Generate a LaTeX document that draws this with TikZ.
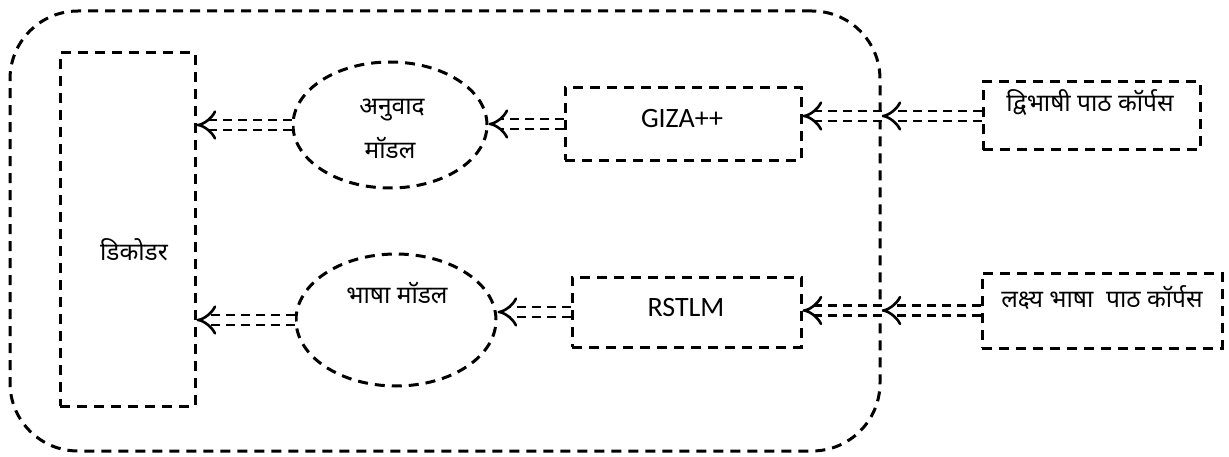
\documentclass[tikz,border=0pt]{standalone}
\usepackage{fontspec}
\setmainfont{Carlito}
\newfontfamily\deva[Script=Devanagari]{Noto Sans}
\usetikzlibrary{arrows.meta,shapes.geometric}

\begin{document}
\begin{tikzpicture}[x=1pt,y=-1pt,
  outline/.style={draw, line width=3pt, dash pattern=on 10pt off 7pt},
  box/.style={outline, rectangle, inner sep=0pt},
  oval/.style={outline, ellipse, inner sep=0pt},
  flow/.style={line width=2.6pt, double, double distance=7.5pt,
               dash pattern=on 9pt off 6pt, -{Implies[length=11pt,width=26pt]}},
  hindi/.style={font=\deva\fontsize{24.5}{28}\selectfont, inner sep=0pt},
  latin/.style={font=\fontsize{28}{32}\selectfont, inner sep=0pt}]

\useasboundingbox (0,0) rectangle (1229,457);

% system boundary
\node[box, rounded corners=68pt, minimum width=870pt, minimum height=440pt] (frame) at (445,231) {};

% components inside the system
\node[box, minimum width=135pt, minimum height=353pt] (dec) at (127.5,229.5) {};
\node[oval, minimum width=194pt, minimum height=126pt] (ell1) at (390,125) {};
\node[oval, minimum width=200pt, minimum height=132pt] (ell2) at (396,320) {};
\node[box, minimum width=236pt, minimum height=73pt] (giza) at (683,124) {};
\node[box, minimum width=229pt, minimum height=70pt] (rst) at (686.5,312) {};

% corpora outside the system
\node[box, minimum width=217pt, minimum height=68pt] (bi) at (1091.5,116) {};
\node[box, minimum width=240pt, minimum height=75pt] (lak) at (1102,310.5) {};

% labels
\node[hindi] (tdec) at (134,250) {डिकोडर};
\node[hindi] (tell1a) at (392,110) {अनुवाद};
\node[hindi] (tell1b) at (390,148) {मॉडल};
\node[hindi] (tell2) at (397,293) {भाषा मॉडल};
\node[latin] (tgiza) at (682,119) {GIZA++};
\node[latin] (trst) at (686,308) {RSTLM};
\node[hindi] (tbi) at (1090,102) {द्विभाषी पाठ कॉर्पस};
\node[hindi] (tlak) at (1102,298) {लक्ष्य भाषा\ \ पाठ कॉर्पस};

% data flow, upper chain
\draw[flow] (bi.west) -- (bi.west -| frame.east);
\draw[flow] (bi.west -| frame.east) -- (bi.west -| giza.east);
\draw[flow] (giza.west) -- (giza.west -| ell1.east);
\draw[flow] (ell1.west) -- (ell1.west -| dec.east);

% data flow, lower chain
\draw[flow] (lak.west) -- (lak.west -| frame.east);
\draw[flow] (lak.west -| frame.east) -- (lak.west -| rst.east);
\draw[flow] (rst.west) -- (rst.west -| ell2.east);
\draw[flow] (ell2.west) -- (ell2.west -| dec.east);
\end{tikzpicture}
\end{document}
